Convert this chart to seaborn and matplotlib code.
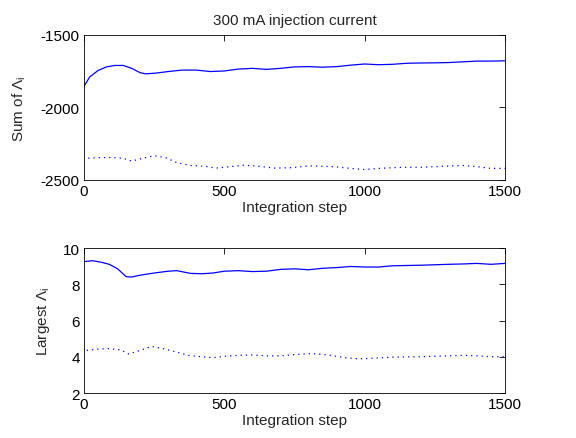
import pandas as pd
import matplotlib
matplotlib.use("Agg")
import matplotlib.pyplot as plt
import seaborn as sns

# Sum of Lambda_i (top panel)
sum_solid_steps = [0, 20, 50, 80, 110, 140, 170, 200, 220, 260, 300, 350, 400, 450, 500, 550, 600,
                   650, 700, 750, 800, 850, 900, 950, 1000, 1050, 1100, 1150, 1200, 1250, 1300, 1350,
                   1400, 1450, 1500]
sum_solid = [-1855, -1790, -1745, -1720, -1710, -1710, -1730, -1760, -1768, -1762, -1752, -1742,
             -1742, -1752, -1748, -1735, -1730, -1737, -1730, -1720, -1718, -1722, -1718, -1708,
             -1700, -1705, -1702, -1695, -1693, -1692, -1690, -1685, -1680, -1680, -1678]
sum_dot_steps = [15, 60, 100, 140, 170, 210, 250, 290, 330, 380, 430, 470, 520, 570, 620, 680, 740,
                 800, 850, 900, 950, 1000, 1050, 1100, 1150, 1200, 1250, 1300, 1350, 1400, 1450, 1500]
sum_dot = [-2350, -2345, -2345, -2350, -2370, -2350, -2333, -2345, -2380, -2400, -2405, -2418,
           -2408, -2398, -2405, -2418, -2415, -2403, -2405, -2410, -2420, -2428, -2420, -2415,
           -2412, -2412, -2408, -2403, -2400, -2408, -2420, -2420]

# Largest Lambda_i (bottom panel)
big_solid_steps = [0, 30, 60, 90, 120, 150, 170, 200, 250, 300, 330, 380, 420, 460, 500, 550, 600,
                   650, 700, 750, 800, 850, 900, 950, 1000, 1050, 1100, 1200, 1300, 1350, 1400, 1450,
                   1500]
big_solid = [9.25, 9.3, 9.22, 9.1, 8.85, 8.42, 8.4, 8.5, 8.62, 8.72, 8.75, 8.6, 8.58, 8.62, 8.72,
             8.75, 8.7, 8.72, 8.82, 8.85, 8.8, 8.88, 8.92, 8.98, 8.95, 8.95, 9.02, 9.05, 9.1, 9.12,
             9.15, 9.1, 9.15]
big_dot_steps = [10, 50, 90, 130, 160, 200, 240, 280, 320, 370, 420, 460, 500, 550, 600, 650, 700,
                 750, 810, 870, 930, 980, 1030, 1100, 1200, 1300, 1350, 1400, 1450, 1500]
big_dot = [4.35, 4.42, 4.45, 4.38, 4.15, 4.35, 4.57, 4.45, 4.3, 4.08, 4.0, 3.95, 4.02, 4.08, 4.1,
           4.05, 4.05, 4.12, 4.18, 4.1, 3.95, 3.88, 3.92, 3.98, 4.0, 4.05, 4.08, 4.05, 4.0, 4.0]

sns.set_style("white")
plt.rcParams['font.family'] = ['Liberation Sans', 'DejaVu Sans']
plt.rcParams['mathtext.fontset'] = 'custom'
plt.rcParams['mathtext.rm'] = 'Liberation Sans'
plt.rcParams['mathtext.it'] = 'Liberation Sans'
plt.rcParams['axes.unicode_minus'] = False
plt.rcParams['font.size'] = 11

fig = plt.figure(figsize=(5.76, 4.39), dpi=100)
ax1 = fig.add_axes([0.1458, 0.5877, 0.7309, 0.3303])
ax2 = fig.add_axes([0.1458, 0.1025, 0.7309, 0.3303])


def draw(ax, s_steps, s_vals, d_steps, d_vals):
    solid = pd.DataFrame({"step": s_steps, "value": s_vals})
    dotted = pd.DataFrame({"step": d_steps, "value": d_vals})
    sns.lineplot(data=solid, x="step", y="value", ax=ax, color="blue", lw=0.9)
    sns.lineplot(data=dotted, x="step", y="value", ax=ax, color="blue", lw=0.9,
                 dashes=False, linestyle=(0, (1, 3.2)))
    ax.set_xlim(0, 1500)
    ax.set_xticks([0, 500, 1000, 1500])
    ax.set_xlabel("Integration step", labelpad=1)
    ax.tick_params(direction="in", top=True, right=True, length=4, width=0.6,
                   labelsize=11, pad=3, colors="black")
    for sp in ax.spines.values():
        sp.set_linewidth(0.6)
        sp.set_color("black")


draw(ax1, sum_solid_steps, sum_solid, sum_dot_steps, sum_dot)
ax1.set_ylim(-2500, -1500)
ax1.set_yticks([-2500, -2000, -1500])
ax1.set_ylabel(r"Sum of $\Lambda_\mathrm{i}$", labelpad=9)
ax1.set_title("300 mA injection current", fontsize=11, pad=8)

draw(ax2, big_solid_steps, big_solid, big_dot_steps, big_dot)
ax2.set_ylim(2, 10)
ax2.set_yticks([2, 4, 6, 8, 10])
ax2.set_ylabel(r"Largest $\Lambda_\mathrm{i}$", labelpad=8)

fig.savefig("out.png", dpi=100, facecolor="white")
